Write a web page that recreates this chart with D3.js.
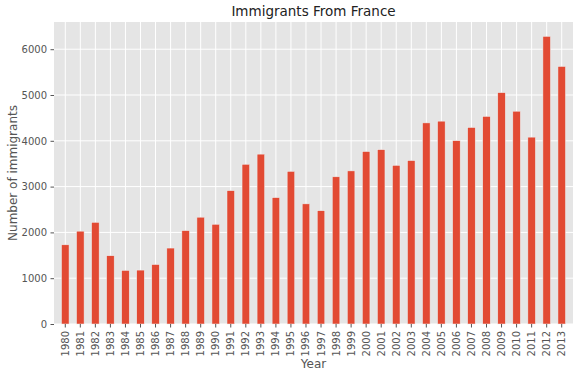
<!DOCTYPE html>
<html>
<head>
<meta charset="utf-8">
<script src="https://cdn.jsdelivr.net/npm/d3@7"></script>
<style>
  body { margin: 0; background: #fff; }
  text { font-family: "DejaVu Sans", sans-serif; }
</style>
</head>
<body>
<div id="chart"></div>
<script>
const years = [1980, 1981, 1982, 1983, 1984, 1985, 1986, 1987, 1988, 1989,
  1990, 1991, 1992, 1993, 1994, 1995, 1996, 1997, 1998, 1999,
  2000, 2001, 2002, 2003, 2004, 2005, 2006, 2007, 2008, 2009,
  2010, 2011, 2012, 2013];
const immigrants = [1729, 2027, 2219, 1490, 1169, 1177, 1298, 1658, 2038, 2332,
  2177, 2911, 3487, 3709, 2759, 3332, 2623, 2473, 3214, 3343,
  3765, 3806, 3463, 3568, 4391, 4429, 4002, 4290, 4532, 5051,
  4646, 4080, 6280, 5623];
const yTicks = [0, 1000, 2000, 3000, 4000, 5000, 6000];

const width = 578;
const height = 375;
const margin = {top: 22, right: 5, bottom: 51, left: 54};
const innerW = width - margin.left - margin.right;
const innerH = height - margin.top - margin.bottom;

const svg = d3.select('#chart').append('svg')
  .attr('width', width)
  .attr('height', height);

const g = svg.append('g')
  .attr('transform', `translate(${margin.left},${margin.top})`);

const x = d3.scaleBand()
  .domain(years)
  .range([0, innerW])
  .padding(0.5);

const y = d3.scaleLinear()
  .domain([0, d3.max(immigrants) * 1.05])
  .range([innerH, 0]);

// background
g.append('rect')
  .attr('width', innerW)
  .attr('height', innerH)
  .attr('fill', '#e5e5e5');

// grid
g.selectAll('.hgrid')
  .data(yTicks)
  .enter().append('line')
  .attr('x1', 0)
  .attr('x2', innerW)
  .attr('y1', d => y(d))
  .attr('y2', d => y(d))
  .attr('stroke', '#fff')
  .attr('stroke-width', 1);

g.selectAll('.vgrid')
  .data(years)
  .enter().append('line')
  .attr('x1', d => x(d) + x.bandwidth() / 2)
  .attr('x2', d => x(d) + x.bandwidth() / 2)
  .attr('y1', 0)
  .attr('y2', innerH)
  .attr('stroke', '#fff')
  .attr('stroke-width', 1);

// bars
g.selectAll('.bar')
  .data(years)
  .enter().append('rect')
  .attr('x', d => x(d))
  .attr('y', (d, i) => y(immigrants[i]))
  .attr('width', x.bandwidth())
  .attr('height', (d, i) => innerH - y(immigrants[i]))
  .attr('fill', '#e24a33')
  .attr('stroke', '#eeeeee')
  .attr('stroke-width', 0.5);

// y axis
const yAxis = g.append('g')
  .call(d3.axisLeft(y).tickValues(yTicks).tickFormat(d3.format('d')).tickSize(3.5).tickPadding(3.5));
yAxis.select('.domain').remove();
yAxis.selectAll('line').attr('stroke', '#555');
yAxis.selectAll('text')
  .attr('fill', '#555')
  .style('font-size', '10px');

// x axis
const xAxis = g.append('g')
  .attr('transform', `translate(0,${innerH})`)
  .call(d3.axisBottom(x).tickSize(3.5));
xAxis.select('.domain').remove();
xAxis.selectAll('line').attr('stroke', '#555');
xAxis.selectAll('text')
  .attr('fill', '#555')
  .style('font-size', '10px')
  .attr('transform', 'rotate(-90)')
  .attr('x', -7)
  .attr('y', 0)
  .attr('dy', '0.35em')
  .attr('text-anchor', 'end');

// title and labels
svg.append('text')
  .attr('x', margin.left + innerW / 2)
  .attr('y', 16)
  .attr('text-anchor', 'middle')
  .attr('fill', '#222')
  .style('font-size', '13.5px')
  .text('Immigrants From France');

svg.append('text')
  .attr('x', margin.left + innerW / 2)
  .attr('y', 368)
  .attr('text-anchor', 'middle')
  .attr('fill', '#555')
  .style('font-size', '12px')
  .text('Year');

svg.append('text')
  .attr('transform', `translate(17,${margin.top + innerH / 2}) rotate(-90)`)
  .attr('text-anchor', 'middle')
  .attr('fill', '#555')
  .style('font-size', '12px')
  .text('Number of immigrants');
</script>
</body>
</html>
